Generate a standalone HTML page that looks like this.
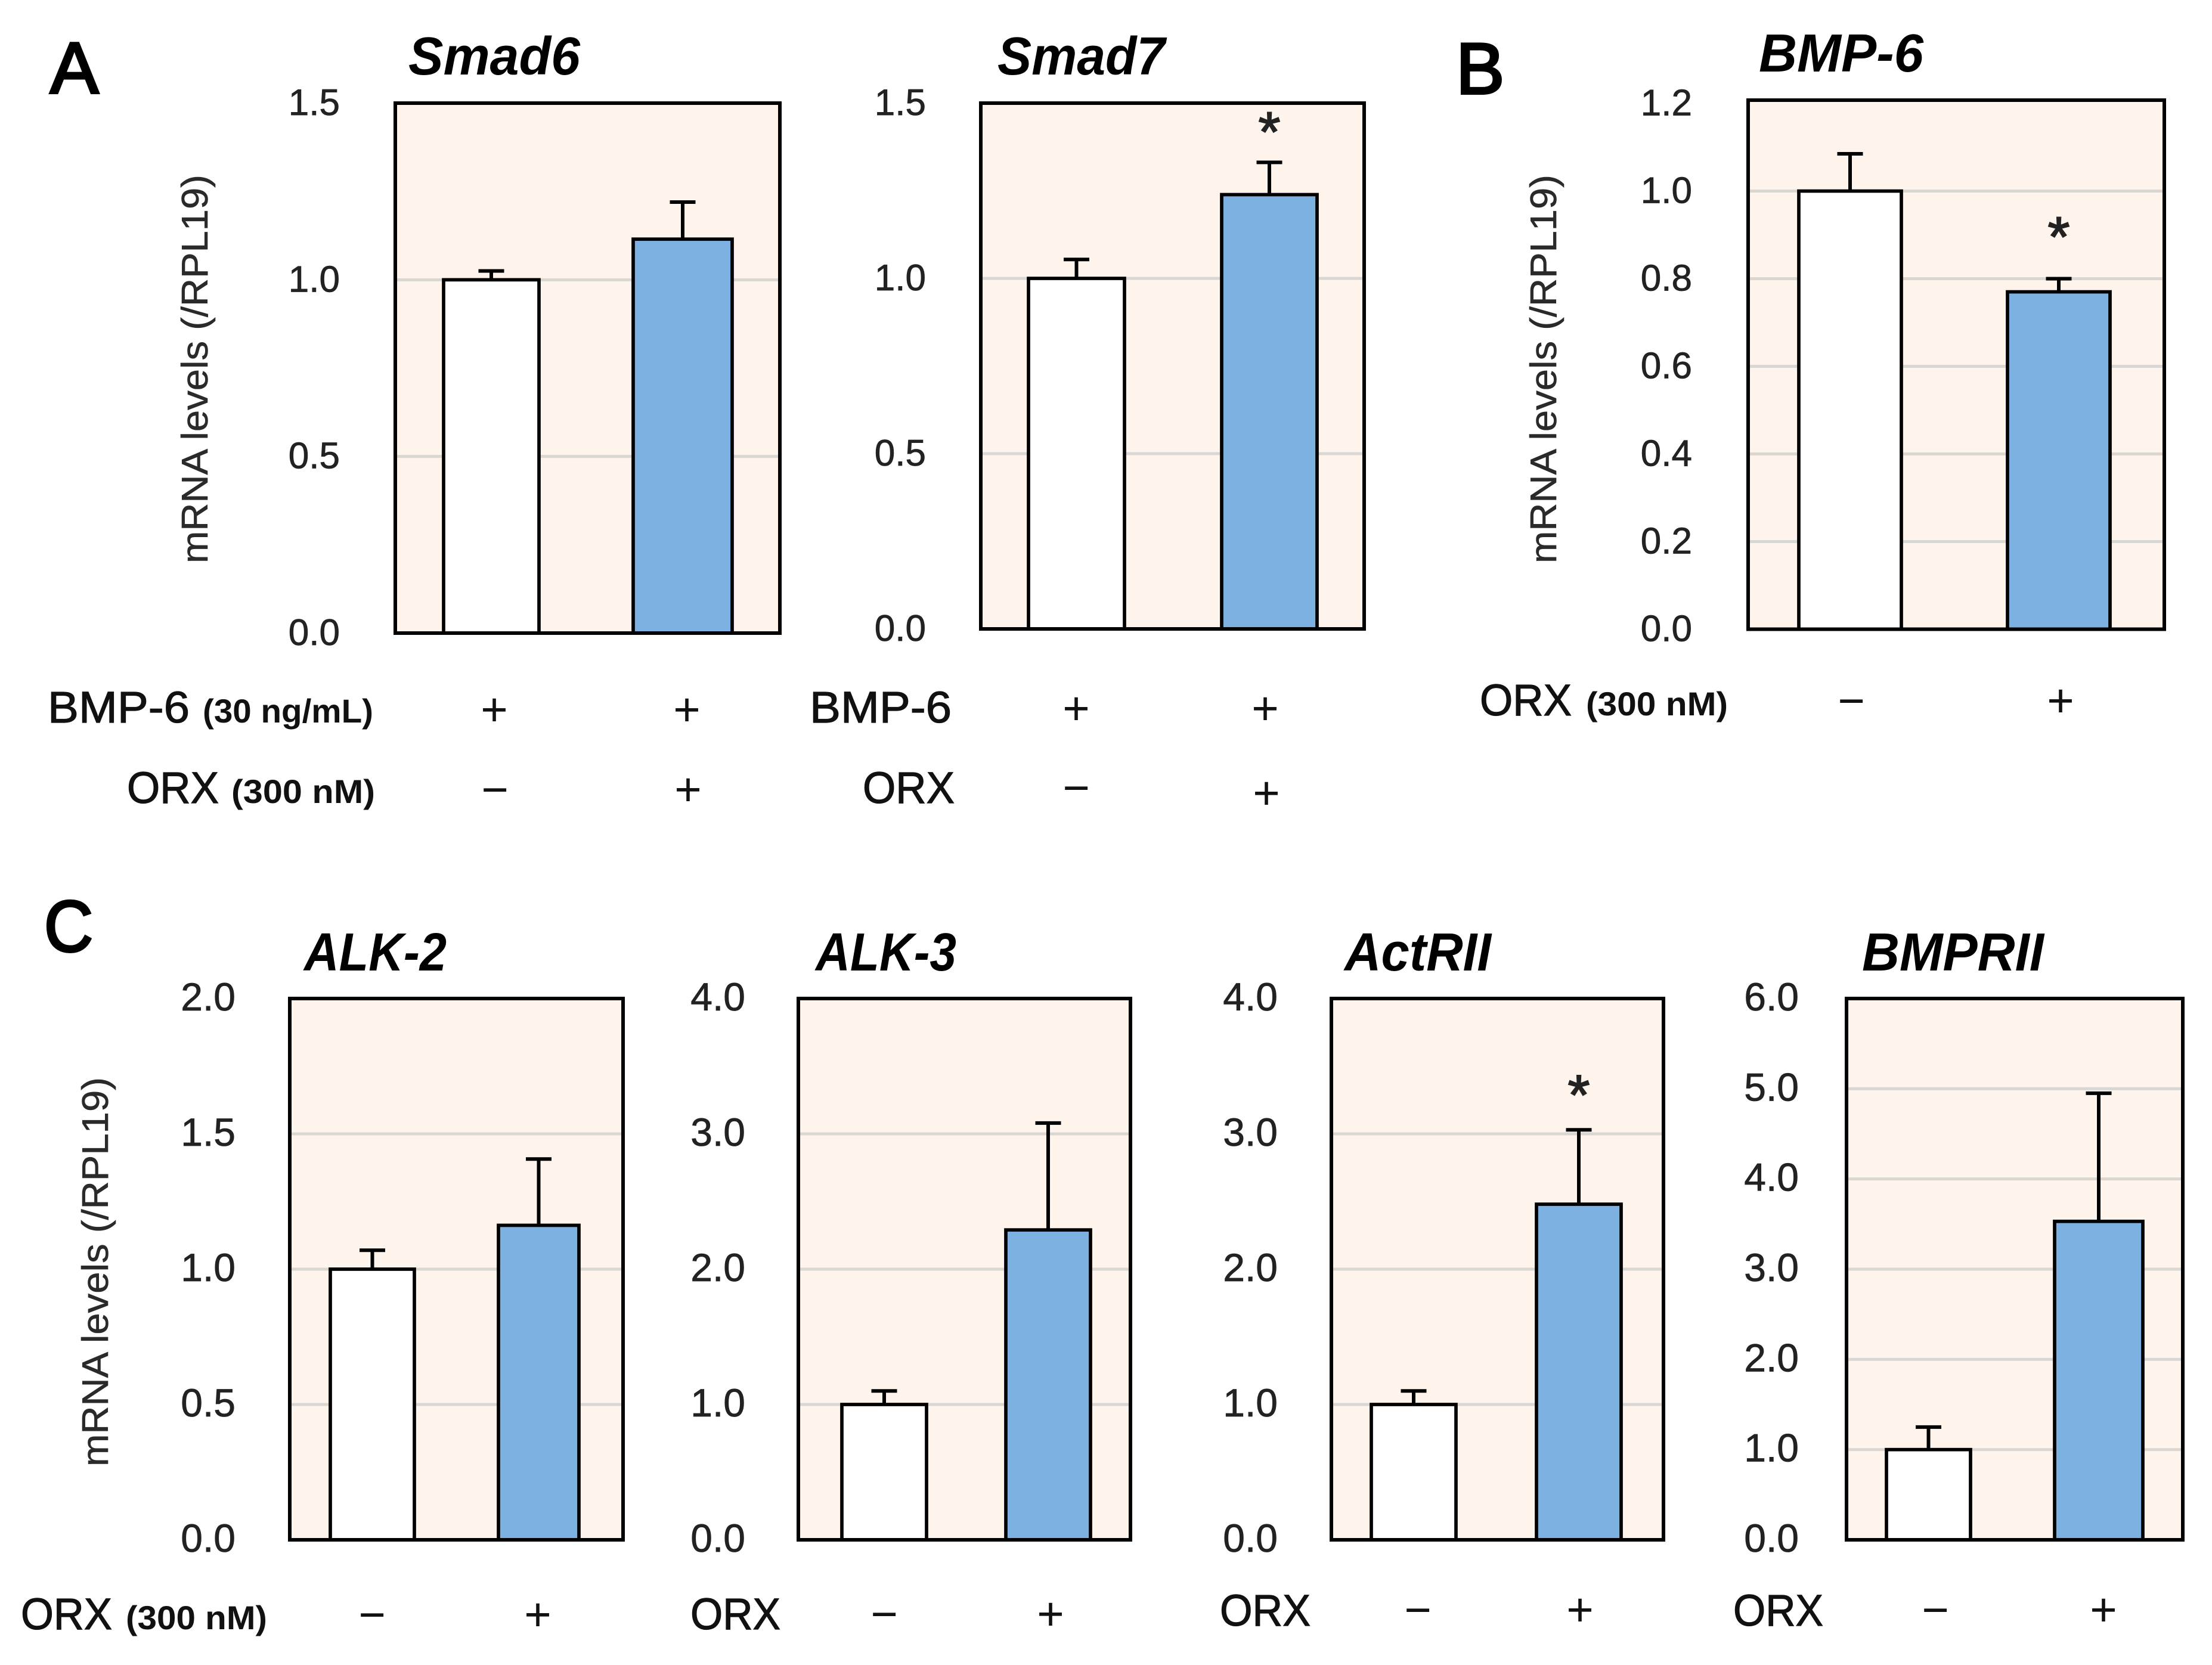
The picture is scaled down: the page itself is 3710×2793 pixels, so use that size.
<!DOCTYPE html>
<html lang="en">
<head>
<meta charset="utf-8">
<title>mRNA levels bar charts</title>
<style>
html,body{margin:0;padding:0;background:#fff;}
svg{display:block;}
text{font-family:"Liberation Sans",sans-serif;fill:#1a1a1a;}
.letter{font-size:122px;fill:#000;stroke:#000;stroke-width:4px;}
.title{font-size:90px;font-weight:bold;font-style:italic;fill:#000;}
.ytitle{font-size:62px;fill:#2a2a2a;stroke:#2a2a2a;stroke-width:.6px;}
.row{font-size:74px;fill:#111;stroke:#111;stroke-width:1.2px;}
.sub{font-size:56px;font-weight:bold;fill:#111;}
.sign{font-size:78px;text-anchor:middle;fill:#111;}
.tick{text-anchor:end;fill:#222;stroke:#222;stroke-width:.8px;}
.star{font-size:95px;text-anchor:middle;fill:#222;stroke:#222;stroke-width:2px;}
</style>
</head>
<body>
<svg id="figure" xmlns="http://www.w3.org/2000/svg" width="3710" height="2793" viewBox="0 0 3710 2793">
  <rect x="0" y="0" width="3710" height="2793" fill="#fff"/>
  <g id="charts"></g>

  <text class="letter" x="84" y="156">A</text>
  <text class="letter" x="2442" y="157">B</text>
  <text class="letter" x="74" y="1596" textLength="82" lengthAdjust="spacingAndGlyphs">C</text>

  <text class="title" x="685" y="125" textLength="288" lengthAdjust="spacingAndGlyphs">Smad6</text>
  <text class="title" x="1673" y="125" textLength="281" lengthAdjust="spacingAndGlyphs">Smad7</text>
  <text class="title" x="2950" y="120" textLength="276" lengthAdjust="spacingAndGlyphs">BMP-6</text>
  <text class="title" x="510" y="1628" textLength="239" lengthAdjust="spacingAndGlyphs">ALK-2</text>
  <text class="title" x="1368" y="1628" textLength="236" lengthAdjust="spacingAndGlyphs">ALK-3</text>
  <text class="title" x="2255" y="1628" textLength="246" lengthAdjust="spacingAndGlyphs">ActRII</text>
  <text class="title" x="3123" y="1628" textLength="305" lengthAdjust="spacingAndGlyphs">BMPRII</text>

  <text class="ytitle" transform="translate(348 945) rotate(-90)" textLength="652" lengthAdjust="spacingAndGlyphs">mRNA levels (/RPL19)</text>
  <text class="ytitle" transform="translate(2610 945) rotate(-90)" textLength="652" lengthAdjust="spacingAndGlyphs">mRNA levels (/RPL19)</text>
  <text class="ytitle" transform="translate(181 2460) rotate(-90)" textLength="653" lengthAdjust="spacingAndGlyphs">mRNA levels (/RPL19)</text>

  <!-- Smad6 treatment rows -->
  <text class="row" x="80" y="1212" textLength="238" lengthAdjust="spacingAndGlyphs">BMP-6</text>
  <text class="sub" x="340" y="1212" textLength="286" lengthAdjust="spacingAndGlyphs">(30 ng/mL)</text>
  <text class="row" x="213" y="1347" textLength="154" lengthAdjust="spacingAndGlyphs">ORX</text>
  <text class="sub" x="388" y="1347" textLength="241" lengthAdjust="spacingAndGlyphs">(300 nM)</text>
  <text class="sign" x="829" y="1217">+</text>
  <text class="sign" x="1152" y="1217">+</text>
  <text class="sign" x="830" y="1351">−</text>
  <text class="sign" x="1154" y="1351">+</text>

  <!-- Smad7 treatment rows -->
  <text class="row" x="1358" y="1212" textLength="238" lengthAdjust="spacingAndGlyphs">BMP-6</text>
  <text class="row" x="1447" y="1347" textLength="154" lengthAdjust="spacingAndGlyphs">ORX</text>
  <text class="sign" x="1805" y="1215">+</text>
  <text class="sign" x="2122" y="1215">+</text>
  <text class="sign" x="1805" y="1348">−</text>
  <text class="sign" x="2124" y="1357">+</text>

  <!-- BMP-6 treatment row -->
  <text class="row" x="2482" y="1200" textLength="154" lengthAdjust="spacingAndGlyphs">ORX</text>
  <text class="sub" x="2660" y="1200" textLength="238" lengthAdjust="spacingAndGlyphs">(300 nM)</text>
  <text class="sign" x="3105" y="1202">−</text>
  <text class="sign" x="3456" y="1202">+</text>

  <!-- Panel C treatment rows -->
  <text class="row" x="35" y="2733" textLength="153" lengthAdjust="spacingAndGlyphs">ORX</text>
  <text class="sub" x="211" y="2733" textLength="237" lengthAdjust="spacingAndGlyphs">(300 nM)</text>
  <text class="sign" x="624" y="2735">−</text>
  <text class="sign" x="902" y="2735">+</text>

  <text class="row" x="1158" y="2733" textLength="151" lengthAdjust="spacingAndGlyphs">ORX</text>
  <text class="sign" x="1483" y="2734">−</text>
  <text class="sign" x="1762" y="2734">+</text>

  <text class="row" x="2046" y="2727" textLength="152" lengthAdjust="spacingAndGlyphs">ORX</text>
  <text class="sign" x="2378" y="2727">−</text>
  <text class="sign" x="2650" y="2727">+</text>

  <text class="row" x="2907" y="2727" textLength="151" lengthAdjust="spacingAndGlyphs">ORX</text>
  <text class="sign" x="3246" y="2727">−</text>
  <text class="sign" x="3528" y="2727">+</text>
</svg>

<script>
// Chart data
const panelNames = ["smad6", "smad7", "bmp6", "alk2", "alk3", "actrii", "bmprii"];
const controlValues = [1.0, 1.0, 1.0, 1.0, 1.0, 1.0, 1.0];
const treatedValues = [1.115, 1.239, 0.77, 1.162, 2.29, 2.48, 3.53];
const controlErrors = [0.025, 0.054, 0.085, 0.07, 0.10, 0.10, 0.25];
const treatedErrors = [0.105, 0.092, 0.03, 0.245, 0.79, 0.55, 1.42];
const significant = [false, true, true, false, false, true, false];
const tickLabels = [
  ["0.0", "0.5", "1.0", "1.5"],
  ["0.0", "0.5", "1.0", "1.5"],
  ["0.0", "0.2", "0.4", "0.6", "0.8", "1.0", "1.2"],
  ["0.0", "0.5", "1.0", "1.5", "2.0"],
  ["0.0", "1.0", "2.0", "3.0", "4.0"],
  ["0.0", "1.0", "2.0", "3.0", "4.0"],
  ["0.0", "1.0", "2.0", "3.0", "4.0", "5.0", "6.0"]
];

// Layout (pixels), separate from the data. a = y of the axis maximum.
const layout = {
  smad6:  {l: 663,  r: 1308, t: 173,  a: 173,   b: 1062,   c: [744, 904],   d: [1062, 1228], tx: 570,  fs: 62, gap: 68},
  smad7:  {l: 1645, r: 2288, t: 173,  a: 173,   b: 1055,   c: [1725, 1886], d: [2049, 2209], tx: 1553, fs: 62, gap: 73},
  bmp6:   {l: 2932, r: 3630, t: 168,  a: 173.5, b: 1055.5, c: [3017, 3189], d: [3367, 3539], tx: 2838, fs: 62, gap: 92},
  alk2:   {l: 486,  r: 1045, t: 1675, a: 1675,  b: 2583,   c: [554, 695],   d: [836, 971],   tx: 395,  fs: 66, gap: 68},
  alk3:   {l: 1339, r: 1896, t: 1675, a: 1675,  b: 2583,   c: [1412, 1554], d: [1687, 1829], tx: 1250, fs: 66, gap: 68},
  actrii: {l: 2233, r: 2790, t: 1675, a: 1675,  b: 2583,   c: [2300, 2442], d: [2577, 2719], tx: 2143, fs: 66, gap: 80},
  bmprii: {l: 3097, r: 3661, t: 1675, a: 1675,  b: 2583,   c: [3164, 3305], d: [3446, 3594], tx: 3017, fs: 66, gap: 68}
};

const SVG_NS = "http://www.w3.org/2000/svg";
const chartsRoot = document.getElementById("charts");

function shape(parent, tag, attrs) {
  const el = document.createElementNS(SVG_NS, tag);
  for (const k in attrs) el.setAttribute(k, attrs[k]);
  parent.appendChild(el);
  return el;
}

function drawBar(group, name, span, value, err, yOf, fill) {
  const mid = (span[0] + span[1]) / 2;
  const yTop = yOf(value);
  const yErr = yOf(value + err);
  const eg = shape(group, "g", {stroke: "#000", "stroke-width": 6});
  
  
  shape(eg, "line", {x1: mid, x2: mid, y1: yTop, y2: yErr});
  shape(eg, "line", {x1: mid - 21.5, x2: mid + 21.5, y1: yErr, y2: yErr});
  const bar = shape(group, "rect", {
    x: span[0], y: yTop, width: span[1] - span[0], height: yOf(0) - yTop,
    fill: fill, stroke: "#000", "stroke-width": 5.7
  });
  
  
}

panelNames.forEach(function (name, i) {
  const f = layout[name];
  const ticks = tickLabels[i];
  const axisMax = parseFloat(ticks[ticks.length - 1]);
  const yOf = function (v) { return f.b - (v / axisMax) * (f.b - f.a); };

  const g = shape(chartsRoot, "g", {});
  
  

  const bg = shape(g, "rect", {x: f.l, y: f.t, width: f.r - f.l, height: f.b - f.t, fill: "#fef4ec"});
  
  

  ticks.forEach(function (label) {
    const v = parseFloat(label);
    const y = yOf(v);
    if (v > 0 && v < axisMax) {
      const grid = shape(g, "line", {x1: f.l, x2: f.r, y1: y, y2: y, stroke: "#d9d7d4", "stroke-width": 5});
      
      
    }
    const t = shape(g, "text", {class: "tick", x: f.tx, y: y + 20, "font-size": f.fs});
    t.textContent = label;
    
    
  });

  drawBar(g, name + '-control', f.c, controlValues[i], controlErrors[i], yOf, "#ffffff");
  drawBar(g, name + '-treated', f.d, treatedValues[i], treatedErrors[i], yOf, "#7cb1e2");

  const frame = shape(g, "rect", {x: f.l, y: f.t, width: f.r - f.l, height: f.b - f.t, fill: "none", stroke: "#000", "stroke-width": 6});
  
  

  if (significant[i]) {
    const mid = (f.d[0] + f.d[1]) / 2;
    const star = shape(g, "text", {class: "star", x: mid, y: yOf(treatedValues[i] + treatedErrors[i]) - f.gap + 54});
    star.textContent = "*";
    
    
  }
});
</script>
</body>
</html>
